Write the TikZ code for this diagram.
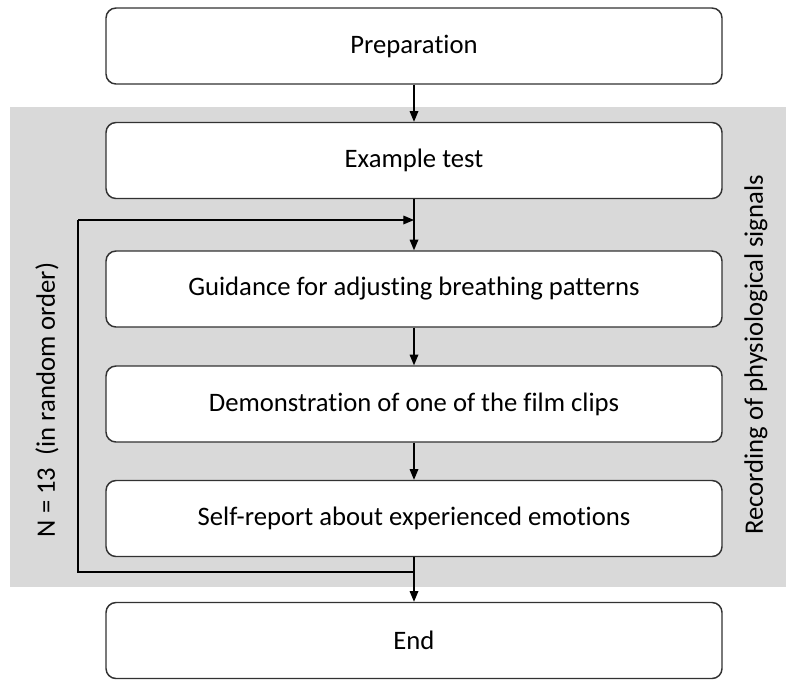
\documentclass[tikz,border=0pt]{standalone}
\usepackage{fontspec}
\setmainfont{Carlito}[RawFeature=-liga]
\usetikzlibrary{arrows.meta}
\definecolor{panelgray}{RGB}{217,217,217}
\definecolor{boxline}{RGB}{50,50,50}
\begin{document}
\begin{tikzpicture}[x=0.75pt,y=-0.75pt,
  stagebox/.style={draw=boxline, line width=1.1pt, fill=white, rounded corners=7.5pt,
    minimum width=462pt, minimum height=57pt, inner sep=0pt, font=\fontsize{20}{24}\selectfont},
  flow/.style={draw=black, line width=0.9pt, -{Triangle[length=8pt,width=6.5pt]}},
  link/.style={draw=black, line width=0.9pt},
  sidelabel/.style={rotate=90, font=\fontsize{20}{24}\selectfont}]
  \useasboundingbox (0,0) rectangle (786,679);
  % shaded region for the recorded part of the session
  \fill[panelgray] (10,107) rectangle (786,587);

  % stages
  \node[stagebox] (prep) at (414,46) {Preparation};
  \node[stagebox] (example) at (414,160.5) {Example test};
  \node[stagebox] (guide) at (414,289) {Guidance for adjusting breathing patterns};
  \node[stagebox] (demo) at (414,404) {Demonstration of one of the film clips};
  \node[stagebox] (self) at (414,518.5) {Self-report about experienced emotions};
  \node[stagebox] (end) at (414,640.5) {End};

  % side labels
  \node[sidelabel] (reps) at (47,400) {N = 13\ \ (in random order)};
  \node[sidelabel] (rec) at (756,355) {Recording of physiological signals};

  % straight flow
  \draw[flow] (prep) -- (example);
  \draw[flow] (example) -- (guide);
  \draw[flow] (guide) -- (demo);
  \draw[flow] (demo) -- (self);
  \draw[flow] (self) -- (end);

  % repetition loop
  \coordinate (loopbl) at (78,572);
  \coordinate (looptl) at (78,220);
  \coordinate (loopjoin) at (414,220);
  \draw[link] (self.south) -- (self.south |- loopbl) -- (loopbl) -- (looptl);
  \draw[flow] (looptl) -- (loopjoin);
\end{tikzpicture}
\end{document}
